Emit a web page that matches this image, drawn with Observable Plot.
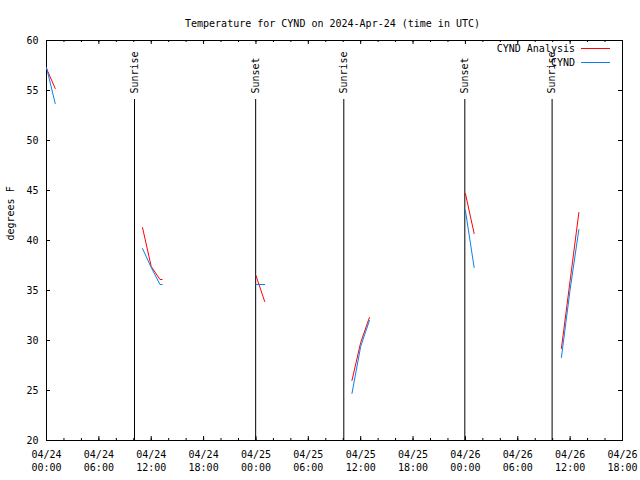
<!DOCTYPE html>
<html><head><meta charset="utf-8">
<script src="https://cdn.jsdelivr.net/npm/d3@7"></script>
<script src="https://cdn.jsdelivr.net/npm/@observablehq/plot@0.6"></script>
<style>body{margin:0;background:#fff;} #chart svg{display:block}</style>
</head><body><div id="chart"></div>
<script>
// ---- data ----
const analysisTimes = ["2024-04-24T00:00Z","2024-04-24T01:00Z",
  "2024-04-24T11:00Z","2024-04-24T12:00Z","2024-04-24T13:00Z","2024-04-24T13:15Z",
  "2024-04-25T00:00Z","2024-04-25T01:00Z",
  "2024-04-25T11:00Z","2024-04-25T12:00Z","2024-04-25T13:00Z",
  "2024-04-26T00:00Z","2024-04-26T01:00Z",
  "2024-04-26T11:00Z","2024-04-26T12:00Z","2024-04-26T13:00Z"];
const analysisTemps = [57.2,55.2, 41.3,37.4,36.1,36.1, 36.5,33.9, 26.0,29.8,32.3, 44.7,40.7, 29.2,36.0,42.8];
const analysisSeg   = [1,1, 2,2,2,2, 3,3, 4,4,4, 5,5, 6,6,6];

const obsTimes = analysisTimes;
const obsTemps = [57.3,53.7, 39.2,37.3,35.6,35.6, 35.6,35.6, 24.7,29.4,32.0, 43.0,37.3, 28.3,35.1,41.1];
const obsSeg   = analysisSeg;

const eventTimes  = ["2024-04-24T10:05Z","2024-04-24T23:58Z","2024-04-25T10:04Z","2024-04-25T23:56Z","2024-04-26T09:56Z"];
const eventLabels = ["Sunrise","Sunset","Sunrise","Sunset","Sunrise"];

const yTicks = [20,25,30,35,40,45,50,55,60];
const xStart = "2024-04-24T00:00Z", xEnd = "2024-04-26T18:00Z";
const titleText = "Temperature for CYND on 2024-Apr-24 (time in UTC)";
const yLabel = "degrees F";
const seriesNames = ["CYND Analysis","CYND"];
const seriesColors = ["#ff0000","#0a80f0"];

// ---- build ----
const analysis = analysisTimes.map((t,i)=>({time:new Date(t), temp:analysisTemps[i], seg:analysisSeg[i]}));
const obs = obsTimes.map((t,i)=>({time:new Date(t), temp:obsTemps[i], seg:obsSeg[i]}));
const events = eventTimes.map((t,i)=>({time:new Date(t), label:eventLabels[i]}));
const x0 = new Date(xStart), x1 = new Date(xEnd);
const majorTicks = d3.utcHour.every(6).range(x0, new Date(+x1+1));
const minorTicks = d3.utcHour.every(2).range(x0, new Date(+x1+1));
const fmt = d3.utcFormat("%m/%d\n%H:%M");
const font = "'DejaVu Sans Mono', monospace";

const W = 640, H = 480, mL = 46, mR = 18, mT = 40, mB = 40;
const fw = W - mL - mR, fh = H - mT - mB;

const chart = Plot.plot({
  width: W, height: H,
  marginLeft: mL, marginRight: mR, marginTop: mT, marginBottom: mB,
  style: {fontFamily: font, fontSize: "10px", background: "white", color: "black"},
  x: {type: "utc", domain: [x0, x1], label: null},
  y: {domain: [20, 60], label: null},
  marks: [
    Plot.frame({stroke: "black"}),
    Plot.axisX(majorTicks, {tickSize: 0, tickPadding: 8, tickFormat: fmt, lineHeight: 1.3, label: null}),
    Plot.axisY(yTicks, {tickSize: 0, tickPadding: 8, label: null}),
    // inward tick marks
    Plot.ruleX(minorTicks, {x: d=>d, insetTop: fh-2, stroke: "black"}),
    Plot.ruleX(minorTicks, {x: d=>d, insetBottom: fh-2, stroke: "black"}),
    Plot.ruleX(majorTicks, {x: d=>d, insetTop: fh-4, stroke: "black"}),
    Plot.ruleX(majorTicks, {x: d=>d, insetBottom: fh-4, stroke: "black"}),
    Plot.ruleY(yTicks, {y: d=>d, insetRight: fw-4, stroke: "black"}),
    Plot.ruleY(yTicks, {y: d=>d, insetLeft: fw-4, stroke: "black"}),
    // sunrise/sunset
    Plot.ruleX(events, {x: "time", insetTop: 59, stroke: "black"}),
    Plot.text(events, {x: "time", text: "label", frameAnchor: "top", dy: 53, rotate: -90, textAnchor: "start", lineAnchor: "middle", fill: "black"}),
    // series
    Plot.line(analysis, {x: "time", y: "temp", z: "seg", stroke: seriesColors[0], strokeWidth: 1}),
    Plot.line(obs, {x: "time", y: "temp", z: "seg", stroke: seriesColors[1], strokeWidth: 1}),
    // title & y label
    Plot.text([titleText], {frameAnchor: "top", dy: -21, dx: -2, fill: "black"}),
    Plot.text([yLabel], {frameAnchor: "left", dx: -36, rotate: -90, fill: "black"})
  ]
});

// legend (drawn in pixel space)
const svg = d3.select(chart);
const leg = svg.append("g").attr("font-family", font).attr("font-size", 10);
seriesNames.forEach((name, i) => {
  const y = 48.5 + i * 14;
  leg.append("text").attr("x", 575).attr("y", y).attr("dy", "0.32em").attr("text-anchor", "end").attr("fill", "black").text(name);
  leg.append("line").attr("x1", 581).attr("x2", 610).attr("y1", y).attr("y2", y).attr("stroke", seriesColors[i]);
});
document.getElementById("chart").append(chart);
</script>
</body></html>
